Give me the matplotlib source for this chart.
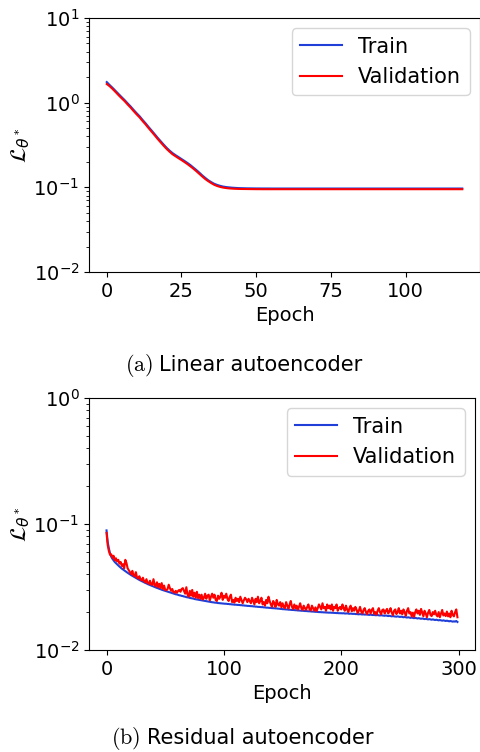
import numpy as np
import matplotlib
matplotlib.use('Agg')
import matplotlib.pyplot as plt

# ------------- data -------------
# (a) linear autoencoder, epochs 0..119
lin_train = [1.75, 1.61, 1.49, 1.37, 1.26, 1.16, 1.07, 0.98, 0.90, 0.82,
             0.75, 0.69, 0.625, 0.57, 0.516, 0.469, 0.426, 0.386, 0.352, 0.321,
             0.294, 0.272, 0.254, 0.240, 0.228, 0.216, 0.205, 0.194, 0.183, 0.171,
             0.160, 0.149, 0.138, 0.129, 0.121, 0.115, 0.110, 0.1066, 0.104, 0.102,
             0.1007, 0.0998, 0.0990, 0.0985, 0.0980, 0.0977, 0.0975, 0.0973, 0.0972, 0.0971,
             0.0970, 0.0970, 0.0969, 0.0969, 0.0969, 0.0968, 0.0968, 0.0968, 0.0968, 0.0968,
             0.0968, 0.0968, 0.0968, 0.0968, 0.0968, 0.0968, 0.0968, 0.0968, 0.0968, 0.0968,
             0.0968, 0.0968, 0.0968, 0.0968, 0.0968, 0.0968, 0.0968, 0.0968, 0.0968, 0.0968,
             0.0968, 0.0968, 0.0968, 0.0968, 0.0968, 0.0968, 0.0968, 0.0968, 0.0968, 0.0968,
             0.0968, 0.0968, 0.0968, 0.0968, 0.0968, 0.0968, 0.0968, 0.0968, 0.0968, 0.0968,
             0.0968, 0.0968, 0.0968, 0.0968, 0.0968, 0.0968, 0.0968, 0.0968, 0.0968, 0.0968,
             0.0968, 0.0968, 0.0968, 0.0968, 0.0968, 0.0968, 0.0968, 0.0968, 0.0968, 0.0968]
lin_val = [1.66, 1.56, 1.445, 1.33, 1.22, 1.125, 1.04, 0.95, 0.873, 0.795,
           0.727, 0.669, 0.606, 0.553, 0.500, 0.455, 0.413, 0.374, 0.341, 0.311,
           0.285, 0.264, 0.246, 0.233, 0.221, 0.210, 0.199, 0.188, 0.177, 0.166,
           0.155, 0.144, 0.134, 0.125, 0.118, 0.112, 0.107, 0.1035, 0.101, 0.0992,
           0.0980, 0.0971, 0.0965, 0.0961, 0.0958, 0.0956, 0.0955, 0.0954, 0.0953, 0.0952,
           0.0951, 0.0951, 0.0950, 0.0950, 0.0950, 0.0950, 0.0950, 0.0950, 0.0950, 0.0950,
           0.0950, 0.0950, 0.0950, 0.0950, 0.0950, 0.0950, 0.0950, 0.0950, 0.0950, 0.0950,
           0.0950, 0.0950, 0.0950, 0.0950, 0.0950, 0.0950, 0.0950, 0.0950, 0.0950, 0.0950,
           0.0950, 0.0950, 0.0950, 0.0950, 0.0950, 0.0950, 0.0950, 0.0950, 0.0950, 0.0950,
           0.0950, 0.0950, 0.0950, 0.0950, 0.0950, 0.0950, 0.0950, 0.0950, 0.0950, 0.0950,
           0.0950, 0.0950, 0.0950, 0.0950, 0.0950, 0.0950, 0.0950, 0.0950, 0.0950, 0.0950,
           0.0950, 0.0950, 0.0950, 0.0950, 0.0950, 0.0950, 0.0950, 0.0950, 0.0950, 0.0950]

# (b) residual autoencoder, epochs 0..299, values in units of 1e-3
res_train_e3 = [
    89.0, 72.0, 64.0, 58.5, 55.0, 53.0, 51.4, 50.0, 48.9, 47.9,
    47.0, 46.0, 45.1, 44.3, 43.6, 42.9, 42.3, 41.6, 41.0, 40.4,
    39.9, 39.3, 38.8, 38.3, 37.8, 37.3, 36.9, 36.4, 36.0, 35.6,
    35.2, 34.8, 34.5, 34.1, 33.8, 33.4, 33.1, 32.8, 32.5, 32.2,
    31.9, 31.7, 31.4, 31.1, 30.9, 30.6, 30.4, 30.1, 29.9, 29.7,
    29.5, 29.3, 29.1, 28.9, 28.7, 28.5, 28.3, 28.1, 27.9, 27.7,
    27.6, 27.4, 27.2, 27.1, 26.9, 26.8, 26.6, 26.5, 26.3, 26.2,
    26.1, 25.9, 25.8, 25.7, 25.6, 25.4, 25.3, 25.2, 25.1, 25.0,
    24.9, 24.8, 24.7, 24.6, 24.5, 24.4, 24.3, 24.2, 24.1, 24.0,
    23.95, 23.9, 23.8, 23.75, 23.7, 23.6, 23.55, 23.5, 23.45, 23.4,
    23.35, 23.3, 23.3, 23.2, 23.2, 23.1, 23.1, 23.0, 23.0, 22.9,
    22.9, 22.85, 22.8, 22.8, 22.7, 22.7, 22.6, 22.6, 22.5, 22.5,
    22.4, 22.4, 22.35, 22.3, 22.3, 22.2, 22.2, 22.1, 22.1, 22.0,
    22.0, 21.95, 21.9, 21.9, 21.8, 21.8, 21.7, 21.7, 21.65, 21.6,
    21.6, 21.5, 21.5, 21.45, 21.4, 21.4, 21.3, 21.3, 21.2, 21.2,
    21.1, 21.1, 21.05, 21.0, 21.0, 20.9, 20.9, 20.85, 20.8, 20.8,
    20.75, 20.7, 20.7, 20.6, 20.6, 20.55, 20.5, 20.5, 20.45, 20.4,
    20.4, 20.35, 20.3, 20.3, 20.25, 20.2, 20.2, 20.15, 20.1, 20.1,
    20.05, 20.0, 20.0, 19.95, 19.95, 19.9, 19.9, 19.85, 19.85, 19.8,
    19.8, 19.8, 19.75, 19.75, 19.7, 19.7, 19.65, 19.65, 19.6, 19.6,
    19.6, 19.55, 19.6, 19.5, 19.5, 19.55, 19.45, 19.4, 19.45, 19.4,
    19.35, 19.4, 19.3, 19.3, 19.25, 19.2, 19.3, 19.2, 19.15, 19.2,
    19.1, 19.15, 19.1, 19.05, 19.0, 19.1, 19.0, 18.95, 19.0, 18.9,
    18.9, 18.95, 18.85, 18.8, 18.9, 18.8, 18.75, 18.7, 18.8, 18.7,
    18.6, 18.7, 18.6, 18.5, 18.6, 18.5, 18.45, 18.4, 18.5, 18.4,
    18.3, 18.4, 18.3, 18.2, 18.3, 18.2, 18.1, 18.2, 18.1, 18.0,
    18.1, 18.0, 17.9, 18.0, 17.9, 17.8, 17.9, 17.8, 17.7, 17.8,
    17.7, 17.6, 17.7, 17.6, 17.5, 17.6, 17.5, 17.4, 17.5, 17.4,
    17.3, 17.4, 17.3, 17.2, 17.3, 17.2, 17.1, 17.2, 17.1, 17.0,
    17.1, 17.0, 16.9, 17.0, 16.9, 16.8, 16.9, 16.8, 17.0, 16.7]
res_val_e3 = [
    85.0, 68.0, 61.0, 57.0, 57.5, 54.0, 56.0, 51.5, 53.5, 50.5,
    52.0, 48.5, 50.0, 46.5, 48.0, 44.5, 52.0, 49.0, 44.5, 43.0,
    41.5, 40.0, 42.5, 39.0, 38.5, 41.5, 37.5, 37.0, 38.5, 36.2,
    35.8, 37.5, 35.0, 34.5, 36.5, 34.0, 33.5, 35.5, 33.2, 32.8,
    36.5, 33.0, 32.0, 34.5, 31.5, 33.5, 31.0, 34.0, 30.5, 32.5,
    30.0, 29.8, 30.5, 33.0, 31.0, 29.5, 30.5, 28.8, 28.5, 29.5,
    28.5, 29.5, 30.0, 29.0, 30.5, 31.0, 29.5, 28.0, 31.5, 27.5,
    26.5, 29.5, 27.0, 30.0, 26.5, 28.5, 26.0, 29.0, 25.8, 27.5,
    25.5, 27.5, 25.2, 26.0, 28.0, 25.5, 27.0, 27.5, 24.8, 26.5,
    28.0, 26.0, 27.5, 25.0, 24.5, 27.0, 25.5, 26.5, 28.5, 25.0,
    27.0, 26.0, 28.0, 25.5, 24.5, 26.5, 27.5, 24.0, 25.0, 23.8,
    26.0, 24.5, 25.5, 24.0, 26.5, 25.0, 23.5, 24.8, 26.0, 25.2,
    24.0, 25.5, 24.5, 23.5, 26.0, 24.5, 23.0, 25.5, 24.0, 26.5,
    23.5, 24.5, 26.0, 23.0, 24.0, 22.5, 25.0, 23.5, 26.5, 24.5,
    23.0, 22.0, 24.5, 23.5, 22.0, 25.0, 23.0, 22.5, 24.0, 21.8,
    23.5, 22.0, 21.5, 24.0, 22.5, 21.3, 23.0, 24.5, 22.0, 21.2,
    23.0, 21.5, 22.5, 20.9, 22.0, 23.5, 21.5, 20.8, 22.5, 21.5,
    20.8, 22.0, 23.0, 21.0, 20.6, 22.5, 21.5, 20.5, 21.8, 20.4,
    21.5, 23.0, 22.0, 21.0, 23.5, 21.5, 22.0, 20.5, 23.0, 21.5,
    22.5, 21.0, 23.0, 20.5, 22.0, 21.5, 23.0, 20.5, 21.5, 22.0,
    21.0, 23.0, 21.5, 20.5, 22.5, 21.0, 20.0, 21.5, 22.5, 20.3,
    21.5, 20.5, 22.0, 21.0, 19.6, 20.5, 22.0, 20.2, 19.5, 20.8,
    21.5, 20.0, 19.3, 20.5, 21.0, 19.5, 20.8, 21.5, 19.4, 20.0,
    19.1, 20.5, 21.5, 20.0, 19.2, 20.8, 21.0, 19.5, 20.5, 21.2,
    19.5, 20.3, 21.5, 19.8, 18.9, 20.5, 21.0, 19.3, 20.0, 21.5,
    19.5, 20.5, 19.2, 21.0, 20.0, 18.7, 20.5, 21.5, 19.5, 20.0,
    18.5, 19.8, 18.3, 20.0, 21.0, 19.5, 20.5, 19.0, 21.2, 19.8,
    18.5, 20.5, 19.5, 18.2, 19.8, 20.8, 19.0, 18.6, 20.0, 19.2,
    20.5, 19.0, 18.5, 20.0, 18.2, 19.5, 20.8, 18.8, 19.5, 18.6,
    20.2, 18.5, 19.5, 18.2, 20.5, 19.0, 18.5, 20.0, 21.0, 18.2]

train_color = '#1f3fd8'
val_color = 'red'

# ------------------------------ Plot ------------------------------
fig = plt.figure(figsize=(4.81, 7.52), dpi=100)
ax1 = fig.add_axes([0.185, 0.6383, 0.813, 0.3378])
ax2 = fig.add_axes([0.185, 0.1356, 0.8025, 0.3351])

panels = [(ax1, lin_train, lin_val, (1e-2, 1e1)),
          (ax2, np.array(res_train_e3) * 1e-3, np.array(res_val_e3) * 1e-3, (1e-2, 1e0))]

for ax, tr, va, ylim in panels:
    ep = np.arange(len(tr))
    ax.plot(ep, tr, color=train_color, lw=1.5, label='Train')
    ax.plot(ep, va, color=val_color, lw=1.5, label='Validation')
    ax.set_yscale('log')
    ax.set_ylim(*ylim)
    ax.set_xlabel('Epoch', fontsize=14)
    ax.set_ylabel(r'$\mathcal{L}_{\theta^*}$', fontsize=16, labelpad=1)
    ax.tick_params(labelsize=14)
    ax.legend(loc='upper right', fontsize=15)

# captions: serif "(a)" followed by sans text
fig.text(0.318, 0.507, r'$\mathrm{(a)}$', ha='right', va='baseline',
         fontsize=16, math_fontfamily='cm')
fig.text(0.3306, 0.507, 'Linear autoencoder', ha='left', va='baseline', fontsize=15)
fig.text(0.291, 0.011, r'$\mathrm{(b)}$', ha='right', va='baseline',
         fontsize=16, math_fontfamily='cm')
fig.text(0.3056, 0.011, 'Residual autoencoder', ha='left', va='baseline', fontsize=15)

fig.savefig('out.png', dpi=100)
